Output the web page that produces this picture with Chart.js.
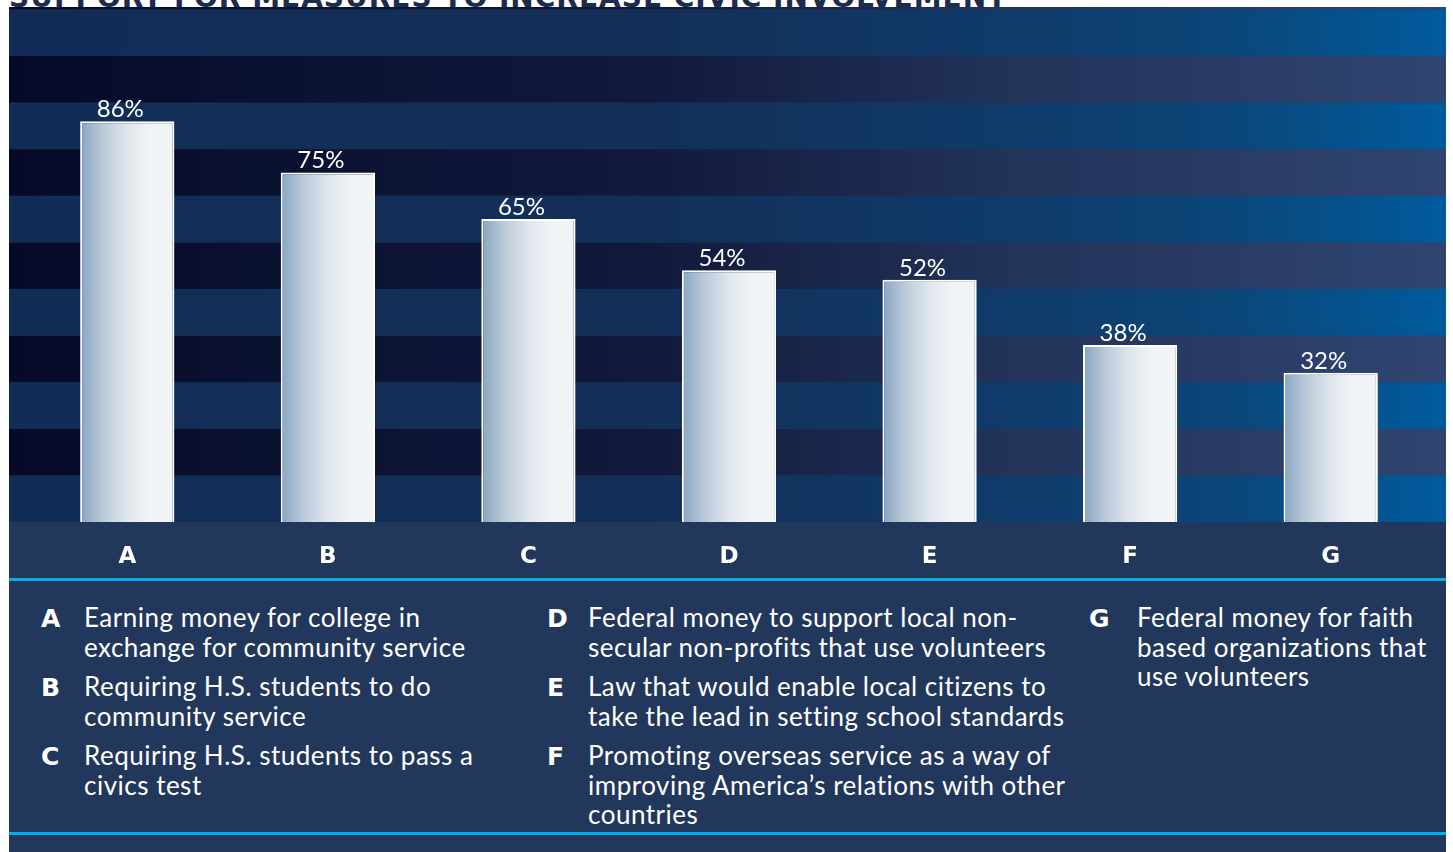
<!DOCTYPE html>
<html>
<head>
<meta charset="utf-8">
<script src="https://cdn.jsdelivr.net/npm/chart.js@4"></script>
<style>
  html, body { margin: 0; padding: 0; background: #fff; width: 1453px; height: 852px; overflow: hidden; }
  #title {
    position: absolute; left: 9px; top: -16px; z-index: 0;
    font: bold 28px "DejaVu Sans", sans-serif; line-height: 28px;
    color: #1c2b4e; white-space: nowrap; letter-spacing: 1px;
  }
  #panel {
    position: absolute; left: 9px; top: 7px; width: 1437px; height: 845px;
    background: #22375c; z-index: 1;
  }
  #chartBox { position: absolute; left: 0; top: 0; width: 1437px; height: 571px; }
  .rule { position: absolute; left: 0; width: 1437px; height: 3px; background: #00aeef; }
  .col { position: absolute; top: 596px; }
  .item { position: relative; margin-bottom: 10px; color: #fff;
    font: 26px Lato, sans-serif; line-height: 29.5px; letter-spacing: 0.5px; white-space: nowrap; }
  .item b { position: absolute; top: 1px; font: bold 25px "DejaVu Sans", sans-serif; line-height: 29.5px; letter-spacing: 0; }
</style>
</head>
<body>
<div id="title">SUPPORT FOR MEASURES TO INCREASE CIVIC INVOLVEMENT</div>
<div id="panel">
  <div id="chartBox"><canvas id="barChart"></canvas></div>
  <div class="rule" style="top:571px"></div>
  <div class="col" id="col1" style="left:75px"></div>
  <div class="col" id="col2" style="left:579px"></div>
  <div class="col" id="col3" style="left:1128px"></div>
  <div class="rule" style="top:825px"></div>
</div>
<script>
const letters = ['A', 'B', 'C', 'D', 'E', 'F', 'G'];
const support = [86, 75, 65, 54, 52, 38, 32];
const measures = [
  ['Earning money for college in', 'exchange for community service'],
  ['Requiring H.S. students to do', 'community service'],
  ['Requiring H.S. students to pass a', 'civics test'],
  ['Federal money to support local non-', 'secular non-profits that use volunteers'],
  ['Law that would enable local citizens to', 'take the lead in setting school standards'],
  ['Promoting overseas service as a way of', 'improving America\u2019s relations with other', 'countries'],
  ['Federal money for faith', 'based organizations that', 'use volunteers']
];
const columns = [[0, 1, 2], [3, 4, 5], [6]];
const letterOffset = [-43, -41, -48];

// legend text under the chart
columns.forEach((idx, c) => {
  const col = document.getElementById('col' + (c + 1));
  idx.forEach(i => {
    const div = document.createElement('div');
    div.className = 'item';
    const b = document.createElement('b');
    b.textContent = letters[i];
    b.style.left = letterOffset[c] + 'px';
    div.appendChild(b);
    measures[i].forEach((line, k) => {
      if (k) div.appendChild(document.createElement('br'));
      div.appendChild(document.createTextNode(line));
    });
    col.appendChild(div);
  });
});

function bandGradient(ctx, w, dark) {
  const g = ctx.createLinearGradient(0, 0, w, 0);
  if (dark) {
    g.addColorStop(0, '#060a28');
    g.addColorStop(0.45, '#111a3c');
    g.addColorStop(0.7, '#23335a');
    g.addColorStop(1, '#2f4570');
  } else {
    g.addColorStop(0, '#122d55');
    g.addColorStop(0.45, '#132f58');
    g.addColorStop(0.7, '#0f3b6a');
    g.addColorStop(0.85, '#0b4679');
    g.addColorStop(1, '#005b9d');
  }
  return g;
}

const stripes = {
  id: 'stripes',
  beforeDraw(chart) {
    const { ctx, chartArea, scales } = chart;
    const y = scales.y;
    const w = chart.width;
    ctx.save();
    for (let v = 0; v < y.max; v += 10) {
      const top = Math.max(y.getPixelForValue(Math.min(v + 10, y.max)), chartArea.top);
      const bottom = y.getPixelForValue(v);
      const band = Math.floor(v / 10);
      ctx.fillStyle = bandGradient(ctx, w, band % 2 === 1);
      ctx.fillRect(0, top, w, bottom - top);
    }
    ctx.restore();
  }
};

const valueLabels = {
  id: 'valueLabels',
  afterDatasetsDraw(chart) {
    const { ctx } = chart;
    const meta = chart.getDatasetMeta(0);
    ctx.save();
    ctx.fillStyle = '#ffffff';
    ctx.font = '24px Lato, sans-serif';
    ctx.textAlign = 'center';
    ctx.textBaseline = 'alphabetic';
    meta.data.forEach((bar, i) => {
      ctx.fillText(support[i] + '%', bar.x - 7, bar.y - 4);
    });
    ctx.restore();
  }
};

const canvas = document.getElementById('barChart');
new Chart(canvas.getContext('2d'), {
  type: 'bar',
  data: {
    labels: letters,
    datasets: [{
      data: support,
      backgroundColor(c) {
        const chart = c.chart;
        const xs = chart.scales.x;
        if (!xs || c.dataIndex === undefined) return '#e8eef2';
        const cx = xs.getPixelForValue(c.dataIndex);
        const half = (xs.width / letters.length) * 0.47 / 2;
        if (!isFinite(cx) || !isFinite(half)) return '#e8eef2';
        const g = chart.ctx.createLinearGradient(cx - half, 0, cx + half, 0);
        g.addColorStop(0, '#88a5c1');
        g.addColorStop(0.25, '#bccbda');
        g.addColorStop(0.5, '#dfe6ed');
        g.addColorStop(0.72, '#eff3f5');
        g.addColorStop(1, '#f2f5f6');
        return g;
      },
      borderColor: '#ffffff',
      borderWidth: 2,
      borderSkipped: 'bottom',
      barPercentage: 0.47,
      categoryPercentage: 1
    }]
  },
  options: {
    responsive: true,
    maintainAspectRatio: false,
    animation: false,
    layout: { padding: { left: 18, right: 15, top: 0, bottom: 0 } },
    plugins: { legend: { display: false }, tooltip: { enabled: false } },
    scales: {
      y: { display: false, min: 0, max: 110.5 },
      x: {
        grid: { display: false },
        border: { display: false },
        ticks: {
          color: '#ffffff',
          font: { family: 'DejaVu Sans', size: 23, weight: 'bold' },
          padding: 13
        },
        afterFit(scale) { scale.height = 56; }
      }
    }
  },
  plugins: [stripes, valueLabels]
});
</script>
</body>
</html>
